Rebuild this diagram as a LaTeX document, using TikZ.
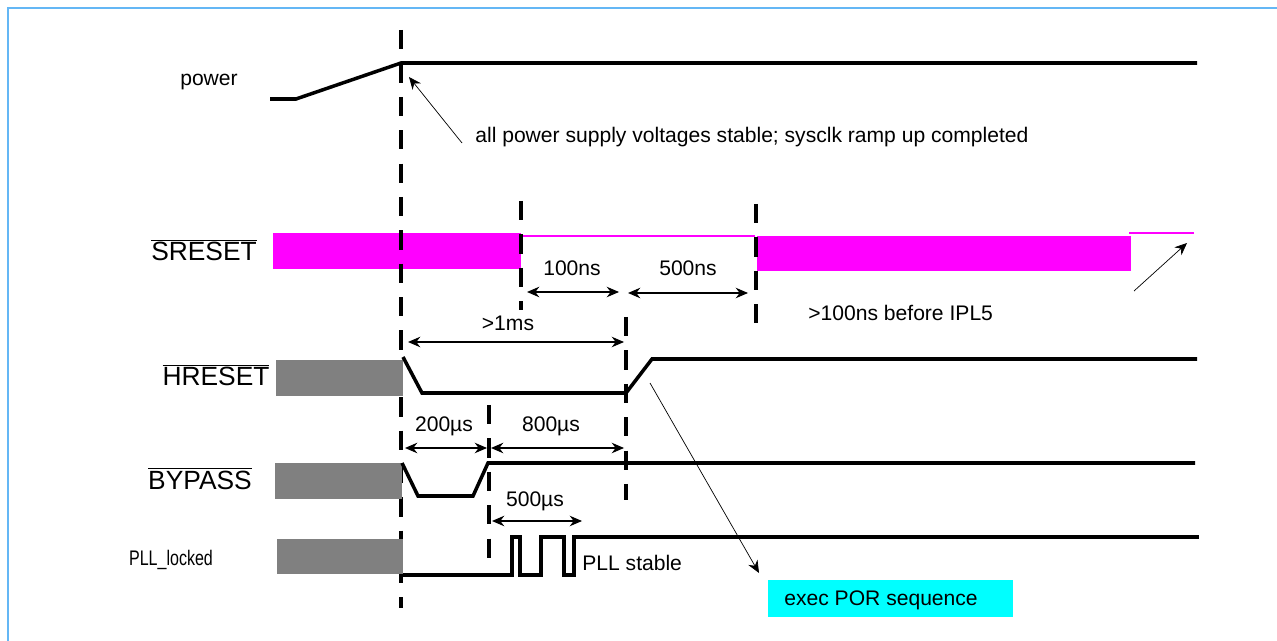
\documentclass[tikz,border=0pt]{standalone}
\usepackage{graphicx}
\usepackage{fontspec}
\setmainfont{Liberation Sans}
\usetikzlibrary{arrows.meta}

\definecolor{framecol}{RGB}{100,183,245}
\definecolor{srstcol}{RGB}{255,0,255}
\definecolor{undefcol}{RGB}{128,128,128}
\definecolor{execcol}{RGB}{0,255,255}

\begin{document}
\begin{tikzpicture}[x=0.02cm,y=-0.02cm]
    % Styles
    \tikzset{
      signal/.style={line width=2pt},
      marker/.style={line width=2pt, dash pattern=on 11pt off 8pt},
      dim arrow/.style={line width=0.7pt, {Stealth[length=7pt,width=6pt]}-{Stealth[length=7pt,width=6pt]}},
      note arrow/.style={line width=0.4pt, -{Stealth[length=7pt,width=6pt]}},
      small label/.style={font=\fontsize{12}{14}\selectfont, inner sep=0pt},
      big label/.style={font=\fontsize{15}{18}\selectfont, inner sep=0pt},
      undef box/.style={fill=undefcol, draw=none},
      srst box/.style={fill=srstcol, draw=none}
    }
    \useasboundingbox (0,0) rectangle (1277,641);

    % frame (top and left edge only)
    \draw[framecol, line width=1.6pt] (8,641) -- (8,8) -- (1277,8);

    % --- Signal names ---
    \node[small label, anchor=base] (lpower) at (209,86) {power};
    \node[big label, anchor=base] (lsreset) at (204,261) {$\overline{\mbox{SRESET}}$};
    \node[big label, anchor=base] (lhreset) at (216,386) {$\overline{\mbox{HRESET}}$};
    \node[big label, anchor=base] (lbypass) at (200,489) {$\overline{\mbox{BYPASS}}$};
    \node[small label, anchor=base] (lpll) at (171,565) {\scalebox{0.76}[1]{PLL\_locked}};

    % --- SRESET (drawn below the markers) ---
    \fill[srst box] (273,233) rectangle (521,269);
    \draw[srstcol, line width=0.8pt] (521,236) -- (755,236);
    \fill[srst box] (757,236) rectangle (1131,271);
    \draw[srstcol, line width=0.8pt] (1129,233) -- (1194,233);

    % --- Time markers ---
    \coordinate (m0a) at (401,30);  \coordinate (m0b) at (401,608);
    \coordinate (m1a) at (521,201); \coordinate (m1b) at (521,310);
    \coordinate (m2a) at (756,204); \coordinate (m2b) at (756,330);
    \coordinate (m3a) at (626,317); \coordinate (m3b) at (626,500);
    \coordinate (m4a) at (489,405); \coordinate (m4b) at (489,558);
    \draw[marker] (m0a) -- (m0b);
    \draw[marker] (m1a) -- (m1b);
    \draw[marker] (m2a) -- (m2b);
    \draw[marker] (m3a) -- (m3b);
    \draw[marker] (m4a) -- (m4b);

    % --- Undefined states before power good ---
    \fill[undef box] (276,360) rectangle (403,396);
    \fill[undef box] (275,463) rectangle (402,499);
    \fill[undef box] (277,539) rectangle (403,574);

    % --- Waveforms ---
    \draw[signal] (270,99) -- (296,99) -- (401,63) -- (1197,63);
    \draw[signal] (403,357) -- (422,393) -- (626,393) -- (652,359) -- (1197,359);
    \draw[signal] (402,463) -- (418,496) -- (473,496) -- (488,463) -- (1195,463);
    \draw[signal] (403,575) -- (512,575) -- (512,537) -- (520,537) -- (520,575)
        -- (541,575) -- (541,537) -- (564,537) -- (564,575) -- (574,575)
        -- (574,537) -- (1199,537);

    % --- Timing dimensions ---
    \coordinate (d1a) at (527,292); \coordinate (d1b) at (619,292);
    \coordinate (d2a) at (628,293); \coordinate (d2b) at (748,293);
    \coordinate (d3a) at (408,342); \coordinate (d3b) at (624,342);
    \coordinate (d4a) at (405,448); \coordinate (d4b) at (487,448);
    \coordinate (d5a) at (491,448); \coordinate (d5b) at (624,448);
    \coordinate (d6a) at (492,521); \coordinate (d6b) at (582,521);
    \draw[dim arrow] (d1a) -- (d1b);
    \draw[dim arrow] (d2a) -- (d2b);
    \draw[dim arrow] (d3a) -- (d3b);
    \draw[dim arrow] (d4a) -- (d4b);
    \draw[dim arrow] (d5a) -- (d5b);
    \draw[dim arrow] (d6a) -- (d6b);
    \node[small label, anchor=base] (t100ns) at (572,276) {100ns};
    \node[small label, anchor=base] (t500ns) at (688,276) {500ns};
    \node[small label, anchor=base] (t1ms) at (508,331) {>1ms};
    \node[small label, anchor=base] (t200us) at (444,432) {200µs};
    \node[small label, anchor=base] (t800us) at (551,432) {800µs};
    \node[small label, anchor=base] (t500us) at (535,506) {500µs};

    % --- Notes ---
    \node[small label, anchor=base west] (nstable) at (475,143)
        {all power supply voltages stable; sysclk ramp up completed};
    \node[small label, anchor=base west] (nipl) at (808,321) {>100ns before IPL5};
    \node[small label, anchor=base west] (npll) at (582,570) {PLL stable};
    \node[fill=execcol, anchor=north west, minimum width=245*0.02cm,
          minimum height=37*0.02cm, inner sep=0pt] (exec) at (768,580) {};
    \node[small label, anchor=base west] (nexec) at (784,605) {exec POR sequence};

    \coordinate (a1a) at (462,143); \coordinate (a1b) at (409,77);
    \coordinate (a2a) at (1134,291); \coordinate (a2b) at (1187,243);
    \coordinate (a3a) at (650,383); \coordinate (a3b) at (759,573);
    \draw[note arrow] (a1a) -- (a1b);
    \draw[note arrow] (a2a) -- (a2b);
    \draw[note arrow] (a3a) -- (a3b);

\end{tikzpicture}
\end{document}
